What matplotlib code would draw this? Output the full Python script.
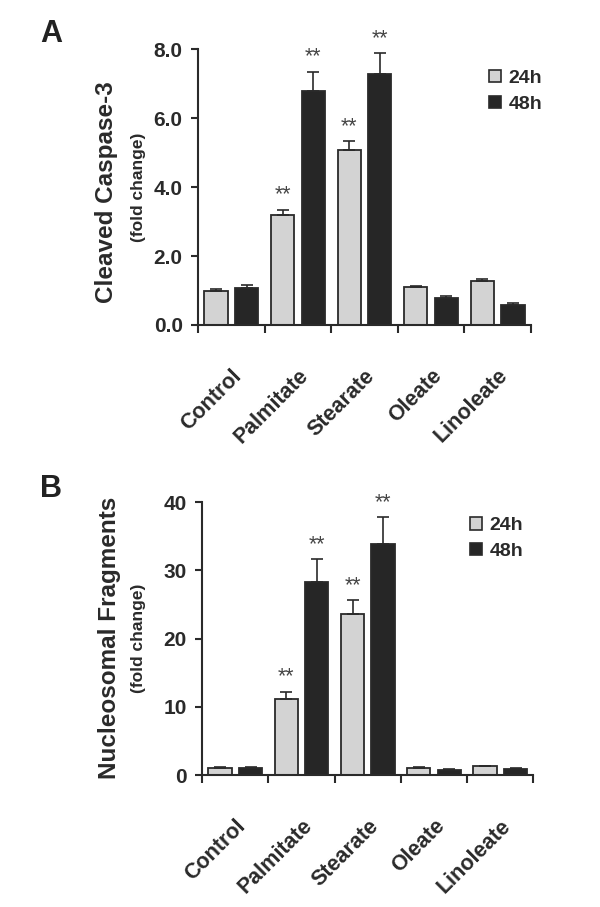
import numpy as np
import matplotlib
matplotlib.use("Agg")
import matplotlib.pyplot as plt
from matplotlib.patches import Patch

plt.rcParams['font.family'] = ['Liberation Sans', 'DejaVu Sans']

categories = ["Control", "Palmitate", "Stearate", "Oleate", "Linoleate"]
series = ["24h", "48h"]

# panel A: cleaved caspase-3 (fold change)
casp_24 = [1.00, 3.20, 5.08, 1.09, 1.29]
casp_24_err = [0.05, 0.15, 0.26, 0.05, 0.05]
casp_48 = [1.08, 6.79, 7.29, 0.79, 0.58]
casp_48_err = [0.08, 0.56, 0.59, 0.05, 0.06]
casp_sig_24 = [False, True, True, False, False]
casp_sig_48 = [False, True, True, False, False]

# panel B: nucleosomal fragments (fold change)
nuc_24 = [1.1, 11.2, 23.6, 1.1, 1.3]
nuc_24_err = [0.05, 1.0, 2.0, 0.05, 0.05]
nuc_48 = [1.0, 28.3, 33.8, 0.75, 0.9]
nuc_48_err = [0.15, 3.3, 4.0, 0.08, 0.08]
nuc_sig_24 = [False, True, True, False, False]
nuc_sig_48 = [False, True, True, False, False]

ink = '#2a2a2a'
light = '#d3d3d3'
dark = '#262626'


def panel(ax, v24, e24, v48, e48, s24, s48, ymax, yticks, yfmt, leg_xy):
    x = np.arange(len(categories)) + 0.5
    w = 0.35
    off = 0.23
    ekw = dict(ecolor=ink, elinewidth=1.2, capsize=4.5, capthick=1.2)
    ax.bar(x - off, v24, w, color=light, edgecolor=ink, linewidth=1.3,
           yerr=[np.zeros(len(v24)), e24], error_kw=ekw, zorder=2)
    ax.bar(x + off, v48, w, color=dark, edgecolor=ink, linewidth=1.3,
           yerr=[np.zeros(len(v48)), e48], error_kw=ekw, zorder=2)

    for xs, vals, errs, sig in [(x - off, v24, e24, s24), (x + off, v48, e48, s48)]:
        for xi, v, e, s in zip(xs, vals, errs, sig):
            if s:
                ax.annotate("**", (xi, v + e), xytext=(0, 3), textcoords='offset points',
                            ha='center', va='bottom', fontsize=15.5, color='#444444')

    ax.set_xlim(0, len(categories))
    ax.set_ylim(0, ymax)
    ax.set_yticks(yticks)
    ax.set_yticklabels([yfmt.format(t) for t in yticks])
    ax.set_xticks(np.arange(len(categories) + 1))
    ax.set_xticklabels([])
    ax.set_xticks(x, minor=True)
    ax.set_xticklabels(categories, minor=True, rotation=45, ha='right',
                       rotation_mode='anchor', fontsize=15.5, fontweight='bold', color=ink)
    ax.tick_params(axis='x', which='minor', length=0, pad=29)
    ax.tick_params(axis='x', which='major', direction='out', length=6, width=1.5, color=ink)
    ax.tick_params(axis='y', direction='out', length=5, width=1.5, color=ink,
                   labelsize=15, labelcolor=ink, pad=6)
    for t in ax.get_yticklabels():
        t.set_fontweight('bold')
    for side in ['top', 'right']:
        ax.spines[side].set_visible(False)
    for side in ['left', 'bottom']:
        ax.spines[side].set_linewidth(1.5)
        ax.spines[side].set_color(ink)

    handles = [Patch(facecolor=light, edgecolor=ink, linewidth=1.2),
               Patch(facecolor=dark, edgecolor=ink, linewidth=1.2)]
    ax.legend(handles, series, loc='upper left', bbox_to_anchor=leg_xy, frameon=False,
              prop=dict(weight='bold', size=14), handlelength=0.6, handleheight=0.6,
              handletextpad=0.4, labelspacing=0.45, labelcolor=ink, borderpad=0)


fig = plt.figure(figsize=(6, 9.07), dpi=100)
ax1 = fig.add_axes([0.330, 0.6417, 0.555, 0.304])
ax2 = fig.add_axes([0.337, 0.1455, 0.552, 0.301])

panel(ax1, casp_24, casp_24_err, casp_48, casp_48_err, casp_sig_24, casp_sig_48,
      8.0, [0, 2, 4, 6, 8], "{:.1f}", (0.845, 0.96))
panel(ax2, nuc_24, nuc_24_err, nuc_48, nuc_48_err, nuc_sig_24, nuc_sig_48,
      40, [0, 10, 20, 30, 40], "{:.0f}", (0.78, 0.98))

# axis titles and panel letters
fig.text(0.177, 1 - 192 / 907, "Cleaved Caspase-3", rotation=90, ha='center', va='center',
         fontsize=17.5, fontweight='bold', color=ink)
fig.text(0.230, 1 - 187 / 907, "(fold change)", rotation=90, ha='center', va='center',
         fontsize=12.5, fontweight='bold', color=ink)
fig.text(0.182, 1 - 638 / 907, "Nucleosomal Fragments", rotation=90, ha='center', va='center',
         fontsize=17.5, fontweight='bold', color=ink)
fig.text(0.230, 1 - 638 / 907, "(fold change)", rotation=90, ha='center', va='center',
         fontsize=12.5, fontweight='bold', color=ink)
fig.text(40 / 600, 1 - 42 / 907, "A", ha='left', va='baseline', fontsize=22,
         fontweight='bold', color='#222222')
fig.text(40 / 600, 1 - 497 / 907, "B", ha='left', va='baseline', fontsize=22,
         fontweight='bold', color='#222222')

fig.savefig("out.png", dpi=100)
